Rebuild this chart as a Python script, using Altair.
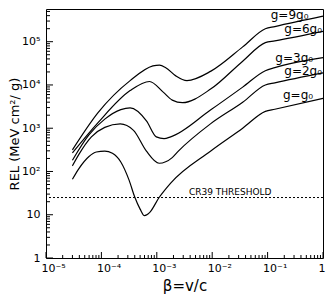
import json
import altair as alt
import pandas as pd

# ---- data ----
series = ["g=g0", "g=2g0", "g=3g0", "g=6g0", "g=9g0"]

beta_g1 = [3.0e-5, 3.9e-5, 5.9e-5, 8.1e-5, 1.15e-4, 1.58e-4, 2.24e-4, 3.16e-4, 3.98e-4,
           5.0e-4, 6.0e-4, 7.4e-4, 1.1e-3, 1.78e-3, 9.3e-3, 3.55e-2, 9.1e-2, 0.135, 1.0]
rel_g1 = [66, 115, 219, 282, 295, 263, 166, 63, 26, 13.5, 9.5, 11.2, 25, 54, 295, 1000,
          2450, 2750, 4900]

beta_g2 = [3.0e-5, 3.9e-5, 6.6e-5, 1.15e-4, 2.19e-4, 3.8e-4, 6.5e-4, 1.1e-3, 1.9e-3,
           2.45e-3, 9.3e-3, 3.55e-2, 9.1e-2, 0.135, 1.0]
rel_g2 = [135, 245, 631, 1047, 1259, 891, 295, 155, 209, 295, 1259, 3981, 10000, 11220,
          19050]

beta_g3 = [3.0e-5, 5.9e-5, 1.15e-4, 2.24e-4, 3.3e-4, 6.5e-4, 9.8e-4, 1.35e-3, 1.78e-3,
           9.3e-3, 3.55e-2, 9.1e-2, 0.135, 1.0]
rel_g3 = [182, 692, 1622, 2692, 2951, 1479, 631, 575, 631, 2630, 8913, 21380, 25120, 42660]

beta_g6 = [3.0e-5, 8.7e-5, 3.3e-4, 7.4e-4, 1.29e-3, 1.9e-3, 2.9e-3, 9.5e-3, 3.55e-2,
           9.1e-2, 0.135, 1.0]
rel_g6 = [269, 1349, 7413, 12020, 6918, 4467, 3890, 8128, 35480, 95500, 104700, 173800]

beta_g9 = [3.0e-5, 8.7e-5, 3.3e-4, 8.5e-4, 1.12e-3, 1.45e-3, 2.2e-3, 3.5e-3, 9.5e-3,
           3.55e-2, 9.1e-2, 0.135, 1.0]
rel_g9 = [316, 2291, 12590, 27540, 28840, 25120, 16220, 12590, 20890, 75860, 199500,
          223900, 389000]

threshold = [25]
threshold_label = ["CR39 THRESHOLD"]
threshold_label_beta = [3.8e-3]

curve_labels = ["g=9g\u2080", "g=6g\u2080", "g=3g\u2080", "g=2g\u2080", "g=g\u2080"]
curve_label_beta = [0.57, 1.0, 0.69, 1.0, 0.69]
curve_label_rel = [4.2e5, 2.0e5, 4.2e4, 2.15e4, 6.0e3]

x_tick_values = [1e-5, 1e-4, 1e-3, 1e-2, 1e-1, 1]
x_tick_labels = ["10\u207b\u2075", "10\u207b\u2074", "10\u207b\u00b3", "10\u207b\u00b2", "10\u207b\u00b9", "1"]
y_tick_values = [1, 10, 100, 1e3, 1e4, 1e5]
y_tick_labels = ["1", "10", "10\u00b2", "10\u00b3", "10\u2074", "10\u2075"]

x_minor = [m * 10.0 ** e for e in range(-5, 0) for m in range(2, 10)]
y_minor = [m * 10.0 ** e for e in range(0, 6) for m in range(2, 10) if m * 10.0 ** e < 5.7e5]

# ---- build tables ----
rows = []
for name, bs, rs in zip(series, [beta_g1, beta_g2, beta_g3, beta_g6, beta_g9],
                        [rel_g1, rel_g2, rel_g3, rel_g6, rel_g9]):
    for b, r in zip(bs, rs):
        rows.append({"g": name, "beta": b, "rel": r})
df = pd.DataFrame(rows)

xs = alt.Scale(type="log", domain=[1e-5, 1], nice=False)
ys = alt.Scale(type="log", domain=[1, 5.7e5], nice=False)

FONT = "DejaVu Sans"

x_expr = json.dumps(x_tick_labels) + "[round(log(datum.value)/LN10)+5]"
y_expr = json.dumps(y_tick_labels) + "[round(log(datum.value)/LN10)]"

ax_x = alt.Axis(values=x_tick_values, labelExpr=x_expr, title="\u03b2=v/c",
                ticks=False, tickSize=0, domain=False, grid=False,
                labelAlign="left", labelOffset=-5, labelPadding=4,
                labelFont=FONT, labelFontSize=11, labelColor="black",
                titleFont=FONT, titleFontSize=15, titleFontWeight="normal",
                titleColor="black", titlePadding=5)
ax_y = alt.Axis(values=y_tick_values, labelExpr=y_expr, title="REL (MeV cm\u00b2/ g)",
                ticks=False, tickSize=0, domain=False, grid=False,
                labelPadding=6, labelFont=FONT, labelFontSize=11,
                labelColor="black", titleFont=FONT, titleFontSize=13,
                titleFontWeight="normal", titleColor="black", titlePadding=0)

lines = alt.Chart(df).mark_line(color="black", strokeWidth=1.2, interpolate="monotone").encode(
    x=alt.X("beta:Q", scale=xs, axis=ax_x),
    y=alt.Y("rel:Q", scale=ys, axis=ax_y),
    detail="g:N",
)

xt_major = alt.Chart(pd.DataFrame({"v": x_tick_values})).mark_rule(
    color="black", strokeWidth=1, y2Offset=-6).encode(
    x=alt.X("v:Q", scale=xs, axis=ax_x),
    y=alt.Y(datum=1, scale=ys, axis=ax_y), y2=alt.Y2(datum=1))
xt_minor = alt.Chart(pd.DataFrame({"v": x_minor})).mark_rule(
    color="black", strokeWidth=1, y2Offset=-3).encode(
    x=alt.X("v:Q", scale=xs, axis=ax_x),
    y=alt.Y(datum=1, scale=ys, axis=ax_y), y2=alt.Y2(datum=1))
yt_major = alt.Chart(pd.DataFrame({"v": y_tick_values})).mark_rule(
    color="black", strokeWidth=1, x2Offset=7).encode(
    y=alt.Y("v:Q", scale=ys, axis=ax_y),
    x=alt.X(datum=1e-5, scale=xs, axis=ax_x), x2=alt.X2(datum=1e-5))
yt_minor = alt.Chart(pd.DataFrame({"v": y_minor})).mark_rule(
    color="black", strokeWidth=1, x2Offset=4).encode(
    y=alt.Y("v:Q", scale=ys, axis=ax_y),
    x=alt.X(datum=1e-5, scale=xs, axis=ax_x), x2=alt.X2(datum=1e-5))

thr = alt.Chart(pd.DataFrame({"t": threshold})).mark_rule(
    color="black", strokeWidth=1, strokeDash=[2, 2]).encode(
    y=alt.Y("t:Q", scale=ys, axis=ax_y))
thr_text = alt.Chart(pd.DataFrame({"b": threshold_label_beta, "t": threshold,
                                   "s": threshold_label})).mark_text(
    align="left", baseline="alphabetic", dy=-3, font=FONT, fontSize=9, color="black").encode(
    x=alt.X("b:Q", scale=xs, axis=ax_x), y=alt.Y("t:Q", scale=ys, axis=ax_y), text="s:N")

lab = alt.Chart(pd.DataFrame({"b": curve_label_beta, "r": curve_label_rel,
                              "s": curve_labels})).mark_text(
    align="right", baseline="middle", dx=-1, font=FONT, fontSize=12, color="black").encode(
    x=alt.X("b:Q", scale=xs, axis=ax_x), y=alt.Y("r:Q", scale=ys, axis=ax_y), text="s:N")

chart = alt.layer(lines, xt_major, xt_minor, yt_major, yt_minor, thr, thr_text, lab).properties(
    width=277, height=249, background="white",
    padding={"left": 38, "top": 1, "right": 3, "bottom": 39},
    autosize=alt.AutoSizeParams(type="none"),
).configure_view(stroke="black", strokeWidth=1)

chart.save("out.html", embed_options={"renderer": "svg", "actions": False})
